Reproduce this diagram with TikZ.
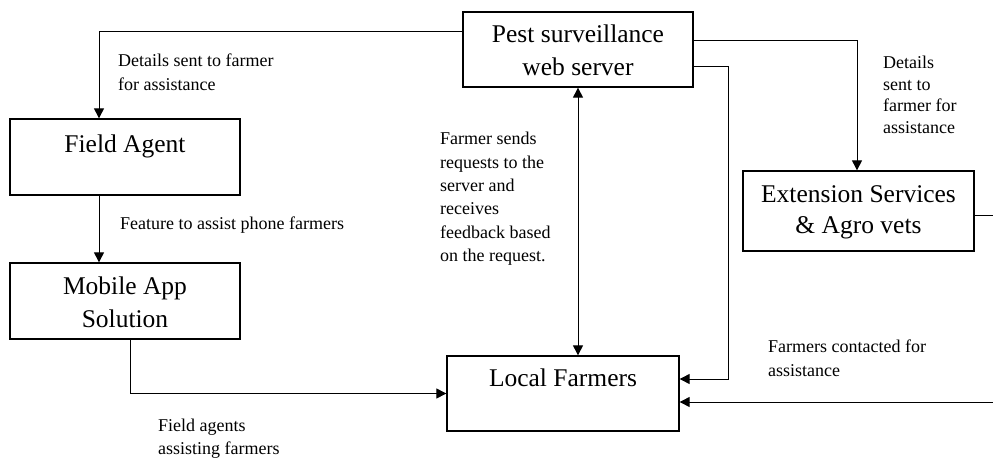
\documentclass[tikz,border=0pt]{standalone}
\usepackage{fontspec}
\setmainfont{Liberation Serif}
\usetikzlibrary{arrows.meta,positioning,calc}
\begin{document}
\begin{tikzpicture}[x=1pt,y=-1pt,
  box/.style={draw,line width=1.3pt,inner sep=0pt},
  boxtext/.style={font=\fontsize{25.5}{33}\selectfont,align=center,inner sep=0pt},
  lbl/.style={font=\fontsize{18}{23.4}\selectfont,align=left,anchor=north west,inner sep=0pt},
  conn/.style={line width=1pt,-{Triangle[width=10pt,length=10pt]}},
  plain/.style={line width=1pt}]
\useasboundingbox (0,0) rectangle (993,460);
% boxes
\node[box,minimum width=230,minimum height=75] (ps) at (578,49.5) {};
\node[boxtext] at ([yshift=-1]ps.center) {Pest surveillance\\web server};
\node[box,minimum width=230,minimum height=76] (fa) at (125,157) {};
\node[boxtext,anchor=base] at ([yshift=-34]fa.north) {Field Agent};
\node[box,minimum width=230,minimum height=76] (ma) at (125,301) {};
\node[boxtext] at ([yshift=-1]ma.center) {Mobile App\\Solution};
\node[box,minimum width=232,minimum height=75] (lf) at (563,393.5) {};
\node[boxtext,anchor=base] at ([yshift=-31]lf.north) {Local Farmers};
\node[box,minimum width=231,minimum height=80] (ex) at (858.5,211) {};
\node[boxtext,font=\fontsize{25.5}{31}\selectfont] at ([yshift=-1]ex.center) {Extension Services\\\& Agro vets};
\coordinate (r1) at (993,215);
\coordinate (r2) at (993,402);
% connectors
\draw[conn] ([yshift=17.5]ps.west) -| ([xshift=-26]fa.north);
\draw[conn] ([xshift=-26]fa.south) -- ([xshift=-26]ma.north);
\draw[conn] ([xshift=5]ma.south) |- (lf.west);
\draw[conn,{Triangle[width=10pt,length=10pt]}-{Triangle[width=10pt,length=10pt]}] (ps.south) -- (ps.south |- lf.north);
\draw[conn] ([yshift=8.5]ps.east) -| ([xshift=-1.5]ex.north);
\draw[conn] ([yshift=-17.5]ps.east) -| (728,379) -- ([yshift=14.5]lf.east);
\draw[plain] ([yshift=-4]ex.east) -- (r1);
\draw[conn] (r2) -- ([yshift=-8.5]lf.east);
% labels
\node[lbl] at (118,54) {Details sent to farmer\\for assistance};
\node[lbl] at (120,217) {Feature to assist phone farmers};
\node[lbl] at (440,132) {Farmer sends\\requests to the\\server and\\receives\\feedback based\\on the request.};
\node[lbl,font=\fontsize{18}{21.5}\selectfont] at (883,56) {Details\\sent to\\farmer for\\assistance};
\node[lbl,font=\fontsize{18}{24}\selectfont] at (768,340) {Farmers contacted for\\assistance};
\node[lbl,font=\fontsize{18}{23}\selectfont] at (158,419) {Field agents\\assisting farmers};
\end{tikzpicture}
\end{document}
